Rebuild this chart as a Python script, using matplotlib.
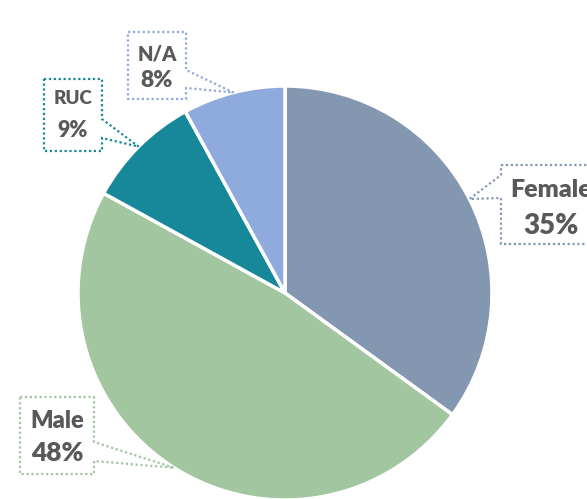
import matplotlib.pyplot as plt
from matplotlib.patches import Polygon
import numpy as np

# Data
labels = ['Female', 'Male', 'RUC', 'N/A']
shares = [35, 48, 9, 8]
colors = ['#8497B0', '#A1C6A0', '#17879A', '#8FAADC']

W, H = 587, 499
def py(y):
    return H - y

fig = plt.figure(figsize=(5.87, 4.99), dpi=100)
ax = fig.add_axes([0, 0, 1, 1])

cx, cy, r = 285, py(293), 207
wedges, _ = ax.pie(shares, colors=colors, startangle=90, counterclock=False,
                   center=(cx, cy), radius=r, frame=True,
                   wedgeprops=dict(edgecolor='white', linewidth=2.5))
ax.set_xlim(0, W)
ax.set_ylim(0, H)
ax.set_aspect('equal')
ax.axis('off')

# callout boxes in pixel layout: x0, x1, ytop, ybot, pointer y1, y2, side, font size, line y's
boxes = {
    'Female': (501, 601, 165, 244, 175, 198, 'left', 18, 190, 226),
    'Male': (20, 94, 397, 474, 442, 461, 'right', 17, 421, 453),
    'RUC': (44, 102, 79, 151, 119, 138, 'right', 13.5, 98, 130),
    'N/A': (128, 186, 32, 99, 70, 88, 'right', 14.5, 54, 80),
}

for w, lab, val, col in zip(wedges, labels, shares, colors):
    x0, x1, yt, yb, p1, p2, side, fs, l1, l2 = boxes[lab]
    mid = np.deg2rad((w.theta1 + w.theta2) / 2)
    tip = (cx + r * np.cos(mid), cy + r * np.sin(mid))
    if side == 'right':
        pts = [(x0, py(yt)), (x1, py(yt)), (x1, py(p1)), tip, (x1, py(p2)),
               (x1, py(yb)), (x0, py(yb))]
    else:
        pts = [(x0, py(yt)), (x1, py(yt)), (x1, py(yb)), (x0, py(yb)),
               (x0, py(p2)), tip, (x0, py(p1))]
    ax.add_patch(Polygon(pts, closed=True, facecolor='white', edgecolor=col,
                         linestyle=(0, (1, 1.2)), linewidth=1.6, zorder=3))
    xc = (x0 + x1) / 2
    ax.text(xc, py(l1), lab, ha='center', va='center', fontsize=fs,
            fontweight='heavy', color='#595959', family='Lato', zorder=4)
    ax.text(xc, py(l2), f'{val}%', ha='center', va='center', fontsize=fs + 2,
            fontweight='heavy', color='#595959', family='Lato', zorder=4)

fig.savefig('out.png', dpi=100)
